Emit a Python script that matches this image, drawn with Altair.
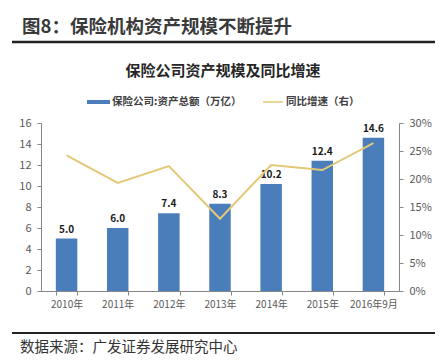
import altair as alt
import pandas as pd

categories = ["2010年", "2011年", "2012年", "2013年", "2014年", "2015年", "2016年9月"]
assets = [5.0, 6.0, 7.4, 8.3, 10.2, 12.4, 14.6]
growth = [0.242, 0.193, 0.223, 0.129, 0.225, 0.216, 0.264]

df = pd.DataFrame({"cat": categories, "assets": assets, "growth": growth,
                   "label": [f"{v:.1f}" for v in assets]})

FONT = "Noto Sans CJK SC"
BAR = "#4A7EBB"
LINE = "#E3C977"
W, H = 358, 168

x = alt.X("cat:N", sort=None, title=None,
          scale=alt.Scale(paddingInner=0.58, paddingOuter=0.29),
          axis=alt.Axis(labelAngle=0, labelFontSize=10, labelColor="#595959", labelFont=FONT,
                        domainColor="#868686", tickColor="#868686", tickBand="extent",
                        tickSize=4, labelPadding=4))

yl = alt.Y("assets:Q", title=None,
           scale=alt.Scale(domain=[0, 16]),
           axis=alt.Axis(values=list(range(0, 17, 2)), grid=False, labelFontSize=11,
                         labelColor="#595959", labelFont=FONT, domainColor="#868686",
                         tickColor="#868686", tickSize=4, labelPadding=6))

yr = alt.Y("growth:Q", title=None,
           scale=alt.Scale(domain=[0, 0.3]),
           axis=alt.Axis(orient="right", values=[0, 0.05, 0.1, 0.15, 0.2, 0.25, 0.3],
                         format=".0%", grid=False, labelFontSize=11, labelColor="#595959",
                         labelFont=FONT, domainColor="#868686", tickColor="#868686",
                         tickSize=4, labelPadding=6))

base = alt.Chart(df)
bars = base.mark_bar(color=BAR).encode(x=x, y=yl)
labels = base.mark_text(dy=-9, fontSize=10, fontWeight="bold", font=FONT, color="#1a1a1a").encode(
    x=x, y=yl, text="label:N")
left = alt.layer(bars, labels)

line = base.mark_line(color=LINE, strokeWidth=2).encode(x=x, y=yr)

one = pd.DataFrame({"k": [0]})

def txt(s, xv, yv, size, weight="normal", align="left", color="#333333"):
    return alt.Chart(one).mark_text(text=s, fontSize=size, fontWeight=weight, align=align,
                                    baseline="middle", font=FONT, color=color).encode(
        x=alt.value(xv), y=alt.value(yv))

def hline(x1, x2, yv, width, color="#222222"):
    return alt.Chart(one).mark_rule(color=color, strokeWidth=width).encode(
        x=alt.value(x1), x2=alt.value(x2), y=alt.value(yv))

deco = [
    txt("图8：保险机构资产规模不断提升", -19, -96, 18.5, weight="bold", color="#3a3a3a"),
    hline(-29, 394, -81, 2.5),
    txt("保险公司资产规模及同比增速", 182, -52, 15, weight="bold", align="center", color="#262626"),
    alt.Chart(one).mark_rect(color=BAR).encode(x=alt.value(46), x2=alt.value(69),
                                               y=alt.value(-23), y2=alt.value(-19)),
    txt("保险公司:资产总额（万亿）", 71, -21, 10.5, weight="bold", color="#404040"),
    alt.Chart(one).mark_rule(color=LINE, strokeWidth=1.5).encode(
        x=alt.value(222), x2=alt.value(242), y=alt.value(-21)),
    txt("同比增速（右）", 245, -21, 10.5, weight="bold", color="#404040"),
    hline(-29, 394, 210, 2),
    txt("数据来源：广发证券发展研究中心", -21, 225, 14.5, color="#333333"),
]

chart = alt.layer(left, line, *deco).resolve_scale(y="independent").properties(
    width=W, height=H,
    padding={"left": 33, "top": 115, "right": 36, "bottom": 65},
    autosize=alt.AutoSizeParams(type="none"),
    background="white",
).configure_view(stroke=None)

chart.save("out.html", embed_options={"renderer": "svg", "actions": False})
